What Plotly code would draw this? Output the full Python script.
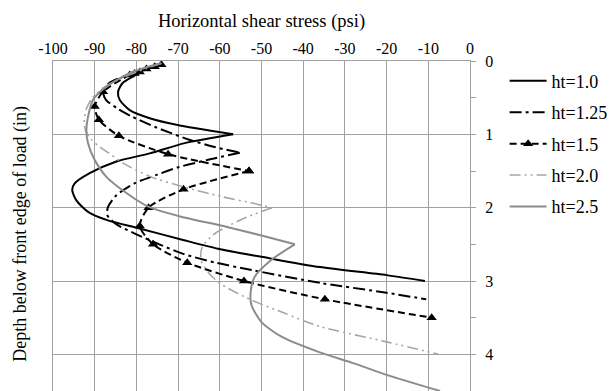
import plotly.graph_objects as go

# Horizontal shear stress (psi) versus depth below the front edge of the load (in)
# for five values of ht. Each curve has an upper branch (0 -> ht) and a lower
# branch (ht -> ht + 2) that meet at a sharp peak at depth = ht.

series_names = ["ht=1.0", "ht=1.25", "ht=1.5", "ht=2.0", "ht=2.5"]

# ht = 1.0
depth_upper_10 = [0.03, 0.1, 0.2, 0.3, 0.42, 0.53, 0.67, 0.78, 0.87, 1.0]
stress_upper_10 = [-74, -77.5, -80.5, -83.3, -84.4, -84, -81.6, -76.8, -70.4, -56.8]
depth_lower_10 = [1.0, 1.12, 1.26, 1.37, 1.53, 1.67, 1.76, 1.9, 2.06, 2.17, 2.28,
                  2.44, 2.56, 2.67, 2.81, 2.92, 3.0]
stress_lower_10 = [-56.8, -68.4, -76.8, -84.8, -91.2, -94.8, -95.4, -94.4, -91.5, -87,
                   -79.5, -68.8, -60.4, -50, -36, -20, -10.8]

# ht = 1.25
depth_upper_125 = [0.03, 0.1, 0.2, 0.3, 0.42, 0.53, 0.65, 0.76, 0.9, 1.07, 1.17, 1.25]
stress_upper_125 = [-74, -77.5, -82.5, -86.5, -88, -87.3, -84.5, -81, -75.5, -67.5, -61.5, -55.2]
depth_lower_125 = [1.25, 1.35, 1.45, 1.55, 1.67, 1.83, 1.99, 2.1, 2.22, 2.35, 2.5,
                   2.63, 2.75, 2.85, 3.03, 3.16, 3.25]
stress_lower_125 = [-55.2, -63, -70, -75, -80.5, -84.8, -86.8, -87, -85, -80.5, -74.5,
                    -68.8, -61, -52.4, -35.5, -20, -10.5]

# ht = 1.5 (plotted points carry triangle markers)
depth_upper_15 = [0.05, 0.08, 0.11, 0.15, 0.17, 0.19, 0.42, 0.62, 0.8, 1.02, 1.27, 1.5]
stress_upper_15 = [-74, -75.6, -77.6, -79.2, -80.4, -81.6, -88, -90, -89, -84.2, -72.4, -53]
depth_lower_15 = [1.5, 1.75, 2.0, 2.25, 2.5, 2.75, 3.0, 3.25, 3.5]
stress_lower_15 = [-53, -68.7, -77.1, -79.2, -76, -67.8, -54.2, -34.8, -9.2]

# ht = 2.0
depth_upper_20 = [0.03, 0.12, 0.22, 0.35, 0.5, 0.65, 0.8, 0.95, 1.07, 1.17, 1.28, 1.4,
                  1.58, 1.72, 1.85, 1.94, 2.0]
stress_upper_20 = [-74, -78.5, -83, -87.5, -90.5, -92, -92.5, -92.2, -90.8, -88.8, -86,
                   -83, -76.5, -68.5, -59.5, -52, -47.5]
depth_lower_20 = [2.0, 2.15, 2.25, 2.37, 2.55, 2.72, 2.9, 3.05, 3.26, 3.44, 3.62, 3.83, 4.0]
stress_lower_20 = [-47.5, -54.4, -58, -61.6, -64.3, -64.5, -62.5, -59.5, -52.4, -44.4,
                   -36, -20, -7.5]

# ht = 2.5
depth_upper_25 = [0.03, 0.15, 0.35, 0.53, 0.76, 0.94, 1.12, 1.35, 1.58, 1.8, 1.99, 2.12,
                  2.26, 2.38, 2.5]
stress_upper_25 = [-74, -81, -87.2, -90.4, -91.6, -92, -91.6, -90, -87.2, -82.4, -77,
                   -69.5, -58.5, -50, -42]
depth_lower_25 = [2.5, 2.71, 2.94, 3.15, 3.33, 3.56, 3.76, 3.97, 4.12, 4.28, 4.5]
stress_lower_25 = [-42, -47.6, -51.6, -52.6, -52.4, -50, -45.2, -36.2, -28, -20, -7.2]

x_tick_vals = [-100, -90, -80, -70, -60, -50, -40, -30, -20, -10, 0]
x_tick_text = ["-100", "-90", "-80", "-70", "-60", "-50", "-40", "-30", "-20", "-10", "0"]
y_tick_vals = [0, 1, 2, 3, 4]
y_tick_text = ["0", "1", "2", "3", "4"]

branches = [
    (depth_upper_10, stress_upper_10, depth_lower_10, stress_lower_10),
    (depth_upper_125, stress_upper_125, depth_lower_125, stress_lower_125),
    (depth_upper_15, stress_upper_15, depth_lower_15, stress_lower_15),
    (depth_upper_20, stress_upper_20, depth_lower_20, stress_lower_20),
    (depth_upper_25, stress_upper_25, depth_lower_25, stress_lower_25),
]

styles = [
    dict(color="#000000", width=2.0, dash="solid", marker=False),
    dict(color="#000000", width=2.0, dash="12px,4px,3px,4px", marker=False),
    dict(color="#000000", width=2.0, dash="7px,4px", marker=True),
    dict(color="#a6a6a6", width=1.6, dash="11px,4px,2px,4px,2px,4px", marker=False),
    dict(color="#8c8c8c", width=2.0, dash="solid", marker=False),
]

FONT = "Liberation Serif"
GRID = "#a0a0a0"

fig = go.Figure()
for name, (du, su, dl, sl), st in zip(series_names, branches, styles):
    for i, (dd, ss) in enumerate(((du, su), (dl, sl))):
        fig.add_trace(go.Scatter(
            x=ss, y=dd, name=name, legendgroup=name, showlegend=(i == 0),
            mode="lines+markers" if st["marker"] else "lines",
            line=dict(color=st["color"], width=st["width"], dash=st["dash"],
                      shape="spline", smoothing=0.7),
            marker=dict(symbol="triangle-up", size=9, color=st["color"]),
        ))

fig.update_layout(
    width=613, height=391,
    margin=dict(l=53, r=143, t=61, b=0),
    paper_bgcolor="white", plot_bgcolor="white",
    font=dict(family=FONT, size=16, color="#000000"),
    showlegend=True,
    legend=dict(
        x=1.083, xanchor="left", y=0.995, yanchor="top",
        font=dict(family=FONT, size=18, color="#000000"),
        traceorder="grouped", tracegroupgap=5, itemwidth=37,
        bgcolor="rgba(0,0,0,0)", borderwidth=0,
    ),
    xaxis=dict(
        side="top", range=[-100, 0], tickvals=x_tick_vals, ticktext=x_tick_text,
        showgrid=True, gridcolor=GRID, gridwidth=1, zeroline=False,
        showline=True, linecolor=GRID, linewidth=1, ticks="",
        tickfont=dict(family=FONT, size=16),
    ),
    yaxis=dict(
        side="right", range=[4.5, 0], tickvals=y_tick_vals, ticktext=y_tick_text,
        showgrid=True, gridcolor=GRID, gridwidth=1, zeroline=False,
        showline=True, linecolor=GRID, linewidth=1, mirror=True,
        ticks="outside", ticklen=5, tickcolor=GRID, ticklabelstandoff=6,
        minor=dict(dtick=0.5, ticks="outside", ticklen=5, tickcolor=GRID, showgrid=False),
        tickfont=dict(family=FONT, size=16),
    ),
    annotations=[
        dict(text="Horizontal shear stress (psi)",
             xref="paper", yref="paper", x=0.5, y=1.121,
             xanchor="center", yanchor="middle", showarrow=False,
             font=dict(family=FONT, size=18.5, color="#000000")),
        dict(text="Depth below front edge of load (in)", textangle=-90,
             xref="paper", yref="paper", x=-0.077, y=0.476,
             xanchor="center", yanchor="middle", showarrow=False,
             font=dict(family=FONT, size=18, color="#000000")),
    ],
)

fig.write_html("out.html")
